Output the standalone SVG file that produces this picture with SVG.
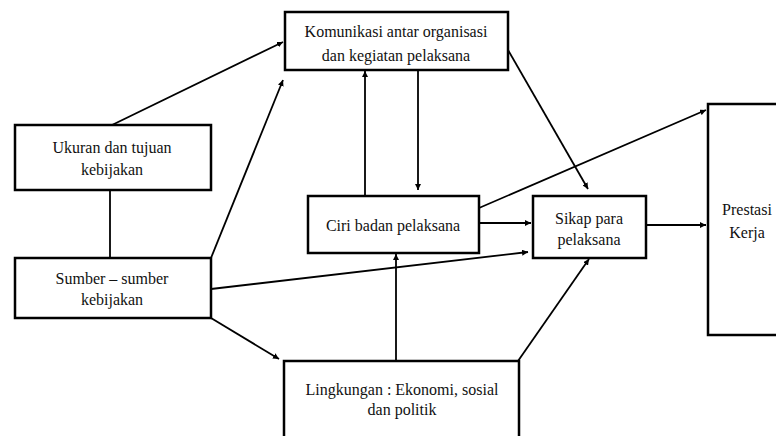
<svg xmlns="http://www.w3.org/2000/svg" width="776" height="436" viewBox="0 0 776 436">
<style>
.box{fill:#fff;stroke:#000;stroke-width:2.5}
.t{font-family:'Liberation Serif','DejaVu Serif',serif;font-size:16px;fill:#111;text-anchor:middle}
.c{stroke:#000;stroke-width:1.8;fill:none}
.a{stroke:#000;stroke-width:1.8;fill:none;marker-end:url(#ah)}
</style>
<defs>
<marker id="ah" viewBox="0 0 10 10" refX="10" refY="5" markerWidth="6" markerHeight="6" orient="auto" markerUnits="userSpaceOnUse" >
<path d="M0,0 L10,5 L0,10 z" fill="#000"/>
</marker>
</defs>
<rect width="776" height="436" fill="#fff"/>
<g id="connectors">
<line class="a" x1="112" y1="125" x2="283" y2="42"/>
<line class="c" x1="110" y1="190" x2="110" y2="258"/>
<line class="a" x1="211" y1="258" x2="283" y2="80"/>
<line class="a" x1="211" y1="289" x2="528" y2="252"/>
<line class="a" x1="211" y1="318" x2="279" y2="359"/>
<line class="a" x1="365" y1="196" x2="365" y2="71"/>
<line class="a" x1="418" y1="70" x2="418" y2="190"/>
<line class="a" x1="396" y1="361" x2="396" y2="254"/>
<line class="a" x1="508" y1="50" x2="588" y2="189"/>
<line class="a" x1="479" y1="208" x2="706" y2="110"/>
<line class="a" x1="479" y1="223" x2="531" y2="223"/>
<line class="a" x1="518" y1="361" x2="589" y2="259"/>
<line class="a" x1="646" y1="225" x2="706" y2="225"/>
</g>
<g id="komunikasi">
<rect class="box" x="285" y="12" width="223" height="58"/>
<text class="t" x="396" y="37">Komunikasi antar organisasi</text>
<text class="t" x="396" y="61">dan kegiatan pelaksana</text>
</g>
<g id="ukuran">
<rect class="box" x="15" y="125" width="196" height="65"/>
<text class="t" x="112" y="153">Ukuran dan tujuan</text>
<text class="t" x="112" y="175">kebijakan</text>
</g>
<g id="sumber">
<rect class="box" x="15" y="258" width="196" height="60"/>
<text class="t" x="112" y="284">Sumber – sumber</text>
<text class="t" x="112" y="305">kebijakan</text>
</g>
<g id="ciri">
<rect class="box" x="308" y="196" width="171" height="57"/>
<text class="t" x="393" y="231">Ciri badan pelaksana</text>
</g>
<g id="sikap">
<rect class="box" x="533" y="196" width="113" height="62"/>
<text class="t" x="589" y="224">Sikap para</text>
<text class="t" x="589" y="245">pelaksana</text>
</g>
<g id="lingkungan">
<rect class="box" x="284" y="361" width="235" height="90"/>
<text class="t" x="402" y="395">Lingkungan : Ekonomi, sosial</text>
<text class="t" x="402" y="415">dan politik</text>
</g>
<g id="prestasi">
<rect class="box" x="708" y="104" width="90" height="231"/>
<text class="t" x="747" y="215">Prestasi</text>
<text class="t" x="747" y="238">Kerja</text>
</g>
</svg>
